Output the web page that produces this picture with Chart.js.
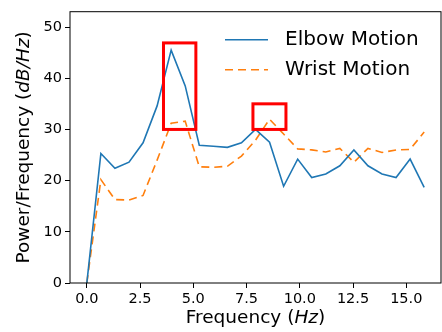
<!DOCTYPE html>
<html>
<head>
<meta charset="utf-8">
<script src="https://cdn.jsdelivr.net/npm/chart.js@4.4.1/dist/chart.umd.min.js"></script>
<style>
    html, body { margin: 0; padding: 0; background: #fff; }
</style>
</head>
<body>
<canvas id="psd-chart" width="442" height="332"></canvas>
<script>
// Frequency bins (Hz)
const freq = [0, 0.66, 1.32, 1.98, 2.64, 3.3, 3.96, 4.62, 5.28, 5.94, 6.6, 7.26, 7.92,
    8.58, 9.24, 9.9, 10.56, 11.22, 11.88, 12.54, 13.2, 13.86, 14.52, 15.18, 15.84];

// Power/Frequency (dB/Hz)
const elbow = [0, 25.3, 22.4, 23.6, 27.4, 34.6, 45.5, 38.5, 26.9, 26.7, 26.5, 27.4, 30.0,
    27.5, 18.9, 24.2, 20.6, 21.3, 22.9, 26.0, 22.9, 21.3, 20.6, 24.2, 18.7];
const wrist = [0, 20.2, 16.3, 16.2, 17.1, 24.0, 31.2, 31.6, 22.7, 22.6, 22.8, 24.8, 27.9,
    32.0, 29.1, 26.2, 26.0, 25.6, 26.3, 23.6, 26.3, 25.5, 26.0, 26.1, 29.5];

const xTicks = [0, 2.5, 5, 7.5, 10, 12.5, 15];
const yTicks = [0, 10, 20, 30, 40, 50];

// highlighted regions [x0, x1, y0, y1]
const boxes = [
    [3.6, 5.12, 30, 46.9],
    [7.8, 9.35, 30, 35]
];

const FONT = '"DejaVu Sans", sans-serif';

function toPoints(ys) {
    return freq.map((f, i) => ({ x: f, y: ys[i] }));
}

// red boxes, frame, legend and axis titles (with italic units)
const extras = {
    id: 'extras',
    afterDatasetsDraw(chart) {
        const { ctx, chartArea: a, scales: { x, y } } = chart;
        ctx.save();
        ctx.strokeStyle = '#ff0000';
        ctx.lineWidth = 3;
        boxes.forEach(b => {
            const x0 = x.getPixelForValue(b[0]), x1 = x.getPixelForValue(b[1]);
            const y0 = y.getPixelForValue(b[2]), y1 = y.getPixelForValue(b[3]);
            ctx.strokeRect(x0, y1, x1 - x0, y0 - y1);
        });
        ctx.restore();
    },
    afterDraw(chart) {
        const { ctx, chartArea: a } = chart;
        ctx.save();
        // frame
        ctx.strokeStyle = '#000';
        ctx.lineWidth = 1;
        ctx.strokeRect(a.left, a.top, a.right - a.left, a.bottom - a.top);

        // legend
        ctx.font = '20px ' + FONT;
        ctx.textBaseline = 'middle';
        ctx.fillStyle = '#000';
        chart.data.datasets.forEach((ds, i) => {
            const yy = a.top + 28 + i * 30;
            ctx.strokeStyle = ds.borderColor;
            ctx.lineWidth = ds.borderWidth;
            ctx.setLineDash(ds.borderDash || []);
            ctx.beginPath();
            ctx.moveTo(a.right - 216, yy);
            ctx.lineTo(a.right - 173, yy);
            ctx.stroke();
            ctx.setLineDash([]);
            ctx.fillText(ds.label, a.right - 156, yy);
        });

        // axis titles
        const drawMixed = (parts, cx, cy) => {
            let w = 0;
            parts.forEach(p => { ctx.font = p[1] + ' 18.5px ' + FONT; w += ctx.measureText(p[0]).width; });
            let px = cx - w / 2;
            parts.forEach(p => {
                ctx.font = p[1] + ' 18.5px ' + FONT;
                ctx.fillText(p[0], px, cy);
                px += ctx.measureText(p[0]).width;
            });
        };
        ctx.fillStyle = '#000';
        ctx.textBaseline = 'alphabetic';
        drawMixed([['Frequency (', 'normal'], ['Hz', 'italic'], [')', 'normal']],
            (a.left + a.right) / 2, 323);
        ctx.translate(29, (a.top + a.bottom) / 2);
        ctx.rotate(-Math.PI / 2);
        drawMixed([['Power/Frequency (', 'normal'], ['dB/Hz', 'italic'], [')', 'normal']], 0, 0);
        ctx.restore();
    }
};

const ctx = document.getElementById('psd-chart').getContext('2d');
new Chart(ctx, {
    type: 'line',
    data: {
        datasets: [{
            label: 'Elbow Motion',
            data: toPoints(elbow),
            borderColor: '#1f77b4',
            borderWidth: 1.6,
            pointRadius: 0,
            tension: 0,
            fill: false
        }, {
            label: 'Wrist Motion',
            data: toPoints(wrist),
            borderColor: '#ff7f0e',
            borderWidth: 1.6,
            borderDash: [8, 5],
            pointRadius: 0,
            tension: 0,
            fill: false
        }]
    },
    options: {
        responsive: false,
        animation: false,
        devicePixelRatio: 1,
        layout: { padding: { top: 5, right: 1, left: 0, bottom: 0 } },
        plugins: {
            legend: { display: false },
            tooltip: { enabled: false }
        },
        scales: {
            x: {
                type: 'linear',
                min: -0.79,
                max: 16.63,
                grid: { drawOnChartArea: false, drawTicks: true, tickLength: 5, color: '#000' },
                border: { display: false },
                ticks: {
                    color: '#000',
                    font: { family: FONT, size: 14.5 },
                    padding: 3,
                    maxRotation: 0,
                    autoSkip: false,
                    callback: v => v.toFixed(1)
                },
                afterBuildTicks: s => { s.ticks = xTicks.map(v => ({ value: v })); },
                afterFit: s => { s.height = 49; }
            },
            y: {
                min: 0,
                max: 53,
                grid: { drawOnChartArea: false, drawTicks: true, tickLength: 5, color: '#000' },
                border: { display: false },
                ticks: {
                    color: '#000',
                    font: { family: FONT, size: 14.5 },
                    padding: 3,
                    autoSkip: false
                },
                afterBuildTicks: s => { s.ticks = yTicks.map(v => ({ value: v })); },
                afterFit: s => { s.width = 70; }
            }
        }
    },
    plugins: [extras]
});
</script>
</body>
</html>
